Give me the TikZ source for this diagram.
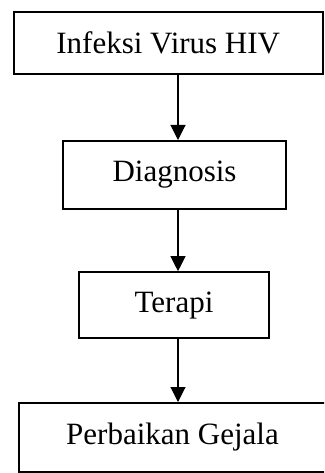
\documentclass[tikz,border=0pt]{standalone}
\usepackage{fontspec}
\setmainfont{Liberation Serif}
\usetikzlibrary{arrows.meta}
\begin{document}
\begin{tikzpicture}[x=1pt,y=-1pt,
  box/.style={draw=black, line width=2pt, inner sep=0pt, font=\fontsize{31}{37}\selectfont},
  arr/.style={draw=black, line width=1.1pt, -{Triangle[length=15pt,width=15pt]}}]
\useasboundingbox (0,0) rectangle (324,473);
\clip (0,0) rectangle (324,473);
\node[box, minimum width=309.5pt, minimum height=61.5pt] (b1) at (168.25,43.25) {Infeksi Virus HIV};
\node[box, minimum width=222.4pt, minimum height=68pt] (b2) at (174.5,175) {Diagnosis};
\node[box, minimum width=189.7pt, minimum height=66pt] (b3) at (174,305.2) {Terapi};
\node[box, minimum width=307pt, minimum height=69pt] (b4) at (172.5,437.5) {Perbaikan Gejala};
\coordinate (ax) at (178,0);
\draw[arr] (b1.south -| ax) -- (b2.north -| ax);
\draw[arr] (b2.south -| ax) -- (b3.north -| ax);
\draw[arr] (b3.south -| ax) -- (b4.north -| ax);
\end{tikzpicture}
\end{document}
